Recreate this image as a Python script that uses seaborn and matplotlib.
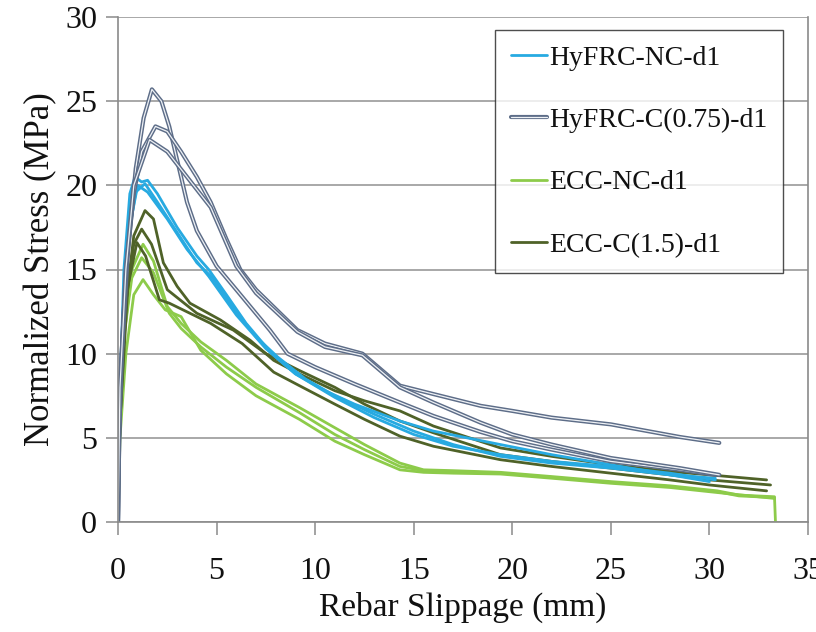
import pandas as pd
import seaborn as sns
import matplotlib
matplotlib.use("Agg")
import matplotlib.pyplot as plt
import matplotlib.patheffects as pe
from matplotlib.lines import Line2D

# --- data (slip in mm, normalized stress in MPa) ---
series_names = ["HyFRC-NC-d1", "HyFRC-C(0.75)-d1", "ECC-NC-d1", "ECC-C(1.5)-d1"]

hyfrc_nc_x = [
    [0, 0.05, 0.3, 0.6, 0.86, 1.2, 1.5, 2, 3, 4, 4.6, 5.5, 6.5, 7.8, 9, 10.5, 12, 14.3, 16, 19.4, 22, 25, 28, 30],
    [0, 0.1, 0.4, 0.9, 1.37, 2, 3, 4, 4.8, 6, 7, 8.1, 9.5, 11, 13, 15, 17, 19.4, 22, 25, 28, 30.3],
    [0, 0.1, 0.5, 1.0, 1.5, 2.5, 3.5, 4.6, 6, 7.5, 9, 11, 13, 15, 17, 19.4, 22, 25, 28, 30.3],
]
hyfrc_nc_y = [
    [0, 6, 15, 19.5, 20.5, 20.2, 20.3, 19.5, 17.5, 15.8, 15, 13.5, 11.8, 10, 8.8, 7.8, 7, 6.0, 5.4, 4.6, 4.0, 3.4, 2.8, 2.4],
    [0, 8, 16, 19.6, 20.1, 19, 17.2, 15.4, 14.5, 12.5, 11, 9.8, 8.5, 7.5, 6.4, 5.4, 4.6, 3.9, 3.5, 3.2, 2.8, 2.6],
    [0, 7, 17, 20.0, 19.6, 18, 16.2, 14.6, 12.3, 10.3, 8.8, 7.4, 6.2, 5.2, 4.5, 4.0, 3.6, 3.3, 2.9, 2.5],
]

hyfrc_c_x = [
    [0, 0.05, 0.2, 0.5, 0.9, 1.3, 1.72, 2.2, 2.6, 3.0, 3.5, 4, 5, 6, 7.7, 8.6, 10, 12, 14.3, 16, 18.4, 20, 22, 25, 28.5, 30.3],
    [0, 0.1, 0.4, 0.8, 1.2, 1.9, 2.5, 3.2, 4, 4.7, 5.5, 6.2, 7, 9.1, 10.5, 12.4, 14.3, 16, 18.4, 20, 22, 25, 28.5, 30.5],
    [0, 0.1, 0.4, 0.8, 1.6, 2.5, 3.5, 4.7, 6, 7, 9.1, 10.5, 12.4, 14.3, 16, 18.4, 20, 22, 25, 28.5, 30.5],
]
hyfrc_c_y = [
    [0, 5, 10, 16, 21, 24, 25.7, 25, 23.5, 21.5, 19, 17.3, 15.2, 13.8, 11.4, 10, 9.2, 8.2, 7.1, 6.3, 5.35, 4.8, 4.3, 3.6, 3.1, 2.8],
    [0, 8, 15, 19.5, 22, 23.5, 23.2, 22, 20.5, 19, 16.8, 15, 13.8, 11.4, 10.6, 10, 8.1, 7.6, 6.9, 6.6, 6.2, 5.8, 5.05, 4.7],
    [0, 8, 15, 20, 22.7, 22, 20.5, 18.7, 15.2, 13.6, 11.3, 10.4, 9.9, 8.0, 7.1, 5.9, 5.2, 4.6, 3.8, 3.2, 2.8],
]

ecc_nc_x = [
    [0, 0.05, 0.3, 0.7, 1.27, 1.8, 2.5, 3.2, 4.2, 5.5, 7, 9.2, 11, 12.5, 14.3, 15.5, 17, 19.4, 22, 25, 28, 30.4, 31.5, 33.3, 33.35],
    [0, 0.05, 0.3, 0.7, 1.2, 1.8, 2.6, 3.2, 4.2, 5.5, 7, 9.2, 11, 12.5, 14.3, 15.5, 17, 19.4, 22, 25, 28, 30.4, 31.5, 33.3],
    [0, 0.1, 0.4, 0.8, 1.27, 1.8, 2.4, 3.2, 4.2, 5.5, 7, 9.2, 11, 12.5, 14.3, 15.5, 17, 19.4, 22, 25, 28, 30.4, 33.3],
]
ecc_nc_y = [
    [0, 5, 11, 15, 16.5, 15.5, 12.8, 11.8, 10.7, 9.6, 8.2, 6.8, 5.6, 4.6, 3.5, 3.1, 3.05, 2.95, 2.7, 2.4, 2.15, 1.85, 1.6, 1.5, 0],
    [0, 5, 11, 14.5, 15.7, 14.8, 12.4, 11.5, 10.4, 9.2, 8.0, 6.5, 5.2, 4.3, 3.3, 3.05, 3.0, 2.9, 2.65, 2.35, 2.1, 1.8, 1.55, 1.45],
    [0, 5, 10, 13.5, 14.4, 13.5, 12.6, 12.2, 10.2, 8.8, 7.5, 6.1, 4.8, 4.0, 3.1, 2.95, 2.9, 2.85, 2.6, 2.3, 2.05, 1.75, 1.4],
]

ecc_c_x = [
    [0, 0.05, 0.3, 0.8, 1.37, 1.8, 2.3, 3, 3.65, 5.2, 6.7, 7.9, 9.2, 11, 12.5, 14.3, 16, 19.4, 22, 25, 28, 30, 32.9],
    [0, 0.1, 0.4, 0.8, 1.2, 1.7, 2.5, 4, 5.85, 7.5, 9.2, 11, 12.5, 14.3, 16, 19.4, 22, 25, 28, 30, 33.1],
    [0, 0.1, 0.5, 0.96, 1.4, 2.1, 2.6, 4.7, 6.3, 7.9, 9.2, 11, 12.5, 14.3, 16, 19.4, 22, 25, 28, 30, 32.9],
]
ecc_c_y = [
    [0, 4, 12, 17, 18.5, 18, 15.4, 14, 13, 12, 10.8, 9.6, 8.8, 7.8, 7.2, 6.6, 5.7, 4.4, 3.9, 3.4, 3.0, 2.8, 2.5],
    [0, 6, 13, 16.5, 17.4, 16.5, 13.8, 12.4, 11.4, 10, 9.0, 8.0, 7.0, 6.0, 5.3, 4.0, 3.6, 3.2, 2.8, 2.5, 2.2],
    [0, 6, 14, 16.6, 15.8, 13.2, 13, 11.8, 10.6, 8.9, 8.1, 7.0, 6.1, 5.1, 4.5, 3.7, 3.3, 2.9, 2.5, 2.2, 1.85],
]

x_ticks = [0, 5, 10, 15, 20, 25, 30, 35]
y_ticks = [0, 5, 10, 15, 20, 25, 30]

colors = {
    "HyFRC-NC-d1": "#27AAE1",
    "HyFRC-C(0.75)-d1": "#EEF1F5",
    "ECC-NC-d1": "#8DCB4A",
    "ECC-C(1.5)-d1": "#4F6228",
}
navy_edge = "#5D6D88"

# long table for seaborn
rows = []
all_x = [hyfrc_nc_x, hyfrc_c_x, ecc_nc_x, ecc_c_x]
all_y = [hyfrc_nc_y, hyfrc_c_y, ecc_nc_y, ecc_c_y]
for name, xs, ys in zip(series_names, all_x, all_y):
    for k, (cx, cy) in enumerate(zip(xs, ys)):
        for xv, yv in zip(cx, cy):
            rows.append((name, k, xv, yv))
df = pd.DataFrame(rows, columns=["series", "test", "slip", "stress"])

sns.set_style("white")
plt.rcParams["font.family"] = ["Liberation Serif", "DejaVu Serif"]

fig = plt.figure(figsize=(8.16, 6.32), dpi=100)
ax = fig.add_axes([118 / 816, 1 - 522 / 632, 690 / 816, 505 / 632])

double_line = [pe.Stroke(linewidth=3.0, foreground=navy_edge), pe.Normal()]

draw_order = ["ECC-NC-d1", "ECC-C(1.5)-d1", "HyFRC-NC-d1", "HyFRC-C(0.75)-d1"]
for name in draw_order:
    sub = df[df["series"] == name]
    if name == "HyFRC-C(0.75)-d1":
        sns.lineplot(data=sub, x="slip", y="stress", units="test", estimator=None,
                     sort=False, color=colors[name], lw=0.9, ax=ax, legend=False,
                     path_effects=double_line)
    else:
        sns.lineplot(data=sub, x="slip", y="stress", units="test", estimator=None,
                     sort=False, color=colors[name], lw=2.0, ax=ax, legend=False)

ax.set_xlim(0, 35)
ax.set_ylim(0, 30)
ax.set_xticks(x_ticks)
ax.set_yticks(y_ticks)
ax.yaxis.grid(True, color="#9A9A9A", lw=1.2)
ax.xaxis.grid(False)
ax.set_axisbelow(True)

for side in ["left", "bottom", "right"]:
    ax.spines[side].set_color("#8A8A8A")
    ax.spines[side].set_linewidth(1.2)
ax.spines["top"].set_visible(False)

ax.tick_params(axis="both", direction="out", length=9, width=1.1, color="#8A8A8A",
               labelsize=23, labelcolor="#111111")
ax.tick_params(axis="x", bottom=True, pad=16)
ax.tick_params(axis="y", left=True, pad=6)

ax.set_xlabel("Rebar Slippage (mm)", fontsize=24, labelpad=4, color="#111111")
ax.set_ylabel("Normalized Stress (MPa)", fontsize=25, labelpad=6, color="#111111")

handles = []
for name in series_names:
    if name == "HyFRC-C(0.75)-d1":
        h = Line2D([], [], color=colors[name], lw=0.9, path_effects=double_line)
    else:
        h = Line2D([], [], color=colors[name], lw=2.0)
    handles.append(h)

leg = ax.legend(handles, series_names, loc="upper right",
                bbox_to_anchor=(783 / 816, 1 - 30 / 632), bbox_transform=fig.transFigure,
                borderaxespad=0, fontsize=20, frameon=True, fancybox=False,
                handlelength=1.3, handletextpad=0.1, labelspacing=1.33, borderpad=0.55)
leg.get_frame().set_edgecolor("#222222")
leg.get_frame().set_linewidth(1.0)
for t in leg.get_texts():
    t.set_color("#111111")

fig.savefig("out.png", dpi=100)
